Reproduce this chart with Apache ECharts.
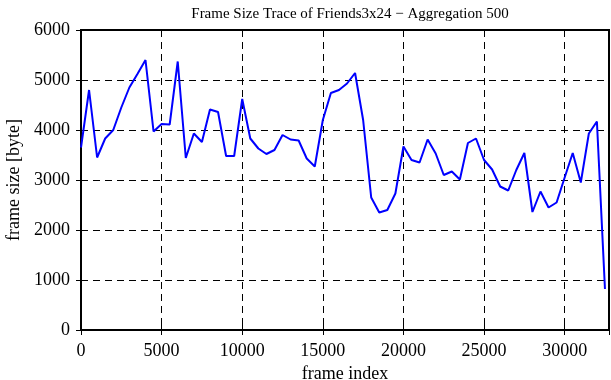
<!DOCTYPE html>
<html>
<head>
<meta charset="utf-8">
<script src="https://cdn.jsdelivr.net/npm/echarts@6/dist/echarts.min.js"></script>
<style>
html, body { margin: 0; padding: 0; background: #fff; }
#chart { width: 611px; height: 380px; }
</style>
</head>
<body>
<div id="chart"></div>
<script>
// frame index (every 500 frames) and aggregated frame size
var frameIndex = [];
for (var i = 0; i <= 32500; i += 500) frameIndex.push(i);
var frameSize = [
    3650, 4800, 3450, 3830, 4000, 4450, 4850, 5120, 5400, 3970,
    4120, 4110, 5370, 3440, 3930, 3760, 4410, 4360, 3480, 3480,
    4620, 3830, 3630, 3520, 3600, 3900, 3810, 3790, 3430, 3270,
    4200, 4740, 4800, 4930, 5140, 4200, 2650, 2350, 2400, 2730,
    3670, 3400, 3350, 3810, 3530, 3100, 3170, 3010, 3740, 3830,
    3400, 3210, 2870, 2790, 3200, 3540, 2360, 2770, 2450, 2550,
    3050, 3540, 2950, 3930, 4170, 820
];
var xMax = 32750;
var yTicks = [0, 1000, 2000, 3000, 4000, 5000, 6000];

var font = 'Liberation Serif';
var chart = echarts.init(document.getElementById('chart'));

var points = frameIndex.map(function (f, k) { return [f, frameSize[k]]; });

function xLabel(v) { return v % 5000 === 0 ? String(v) : ''; }
function yLabel(v) { return String(v); }

chart.setOption({
    animation: false,
    title: {
        text: 'Frame Size Trace of Friends3x24 \u2212 Aggregation 500',
        left: 345,
        top: 2,
        textAlign: 'center',
        textStyle: { fontFamily: font, fontSize: 15, fontWeight: 'normal', color: '#000' }
    },
    grid: {
        left: 81, top: 30, right: 2, bottom: 50,
        outerBoundsMode: 'none',
        containLabel: false,
        show: true, borderColor: '#000', borderWidth: 2
    },
    xAxis: [{
        type: 'value', min: 0, max: xMax, interval: 5000,
        name: 'frame index', nameLocation: 'middle', nameGap: 33,
        nameTextStyle: { fontFamily: font, fontSize: 18, color: '#000' },
        axisLine: { lineStyle: { color: '#000', width: 2 } },
        axisTick: { inside: true, length: 5, lineStyle: { color: '#000', width: 1 } },
        axisLabel: { fontFamily: font, fontSize: 18, color: '#000', margin: 12,
            showMaxLabel: false, formatter: xLabel },
        splitLine: { show: true, lineStyle: { color: '#000', width: 1, type: [7, 5] } }
    }, {
        type: 'value', min: 0, max: xMax, interval: 5000, position: 'top',
        axisLine: { lineStyle: { color: '#000', width: 2 } },
        axisTick: { inside: true, length: 5, lineStyle: { color: '#000', width: 1 } },
        axisLabel: { show: false },
        splitLine: { show: false }
    }],
    yAxis: [{
        type: 'value', min: yTicks[0], max: yTicks[yTicks.length - 1], interval: 1000,
        name: 'frame size [byte]', nameLocation: 'middle', nameGap: 58,
        nameTextStyle: { fontFamily: font, fontSize: 18, color: '#000' },
        axisLine: { lineStyle: { color: '#000', width: 2 } },
        axisTick: { inside: true, length: 5, lineStyle: { color: '#000', width: 1 } },
        axisLabel: { fontFamily: font, fontSize: 18, color: '#000', margin: 11, formatter: yLabel },
        splitLine: { show: true, lineStyle: { color: '#000', width: 1, type: [7, 5] } }
    }, {
        type: 'value', min: yTicks[0], max: yTicks[yTicks.length - 1], interval: 1000, position: 'right',
        axisLine: { lineStyle: { color: '#000', width: 2 } },
        axisTick: { inside: true, length: 5, lineStyle: { color: '#000', width: 1 } },
        axisLabel: { show: false },
        splitLine: { show: false }
    }],
    series: [{
        type: 'line',
        data: points,
        showSymbol: false,
        lineStyle: { color: '#0000ff', width: 2 }
    }]
});
</script>
</body>
</html>
